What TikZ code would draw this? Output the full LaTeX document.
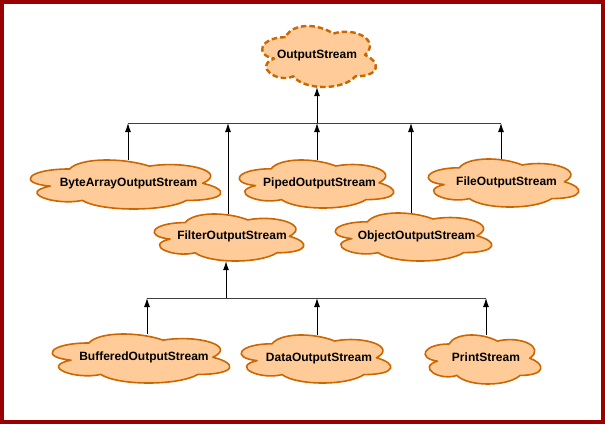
\documentclass[tikz,border=0pt]{standalone}
\usepackage{fontspec}
\setmainfont{Liberation Sans}
\usetikzlibrary{arrows.meta}
\definecolor{cloudfill}{HTML}{FFCC99}
\definecolor{clouddraw}{HTML}{CC6600}
\definecolor{frame}{HTML}{990000}
\definecolor{barcol}{HTML}{404040}
\tikzset{
  cloudline/.style={draw=clouddraw, fill=cloudfill, line width=1.6pt, line join=round},
  cloudtext/.style={rectangle, inner sep=0pt, font=\fontsize{12}{14}\selectfont\bfseries},
  osline/.style={dash pattern=on 5.5pt off 3pt, line width=2.4pt},
  arr/.style={-{Latex[length=9pt,width=6pt]}, line width=0.9pt, black},
  bar/.style={line width=0.9pt, barcol},
}
% #1 name, #2 L, #3 T, #4 R, #5 B (visible bounds), #6 text, #7 extra line style, #8 x text shift
\newcommand\mycloud[8]{%
  \pgfmathsetmacro\cw{(#4-#2)/0.898}%
  \pgfmathsetmacro\ch{(#5-#3)/0.857}%
  \pgfmathsetmacro\cx{#2-0.064*\cw}%
  \pgfmathsetmacro\cy{#3-0.093*\ch}%
  \begin{scope}[shift={(\cx,\cy)}, x={(\cw pt,0pt)}, y={(0pt,-\ch pt)}]
    \draw[cloudline,#7] (0.25,0.25) .. controls (0.05,0.25) and (0,0.5) .. (0.16,0.55)
      .. controls (0,0.66) and (0.18,0.9) .. (0.31,0.8)
      .. controls (0.4,1) and (0.7,1) .. (0.8,0.8)
      .. controls (1,0.8) and (1,0.6) .. (0.875,0.5)
      .. controls (1,0.3) and (0.8,0.1) .. (0.625,0.2)
      .. controls (0.5,0.05) and (0.3,0.05) .. (0.25,0.25) -- cycle;
  \end{scope}
  \node[cloudtext, minimum width={(#4-#2)*1pt}, minimum height={(#5-#3)*1pt}] (#1)
    at ({(#2+#4)/2},{(#3+#5)/2}) {\raisebox{-2.1pt}[0pt][0pt]{\hspace*{#8}#6}};
}
\begin{document}
\begin{tikzpicture}[x=1pt,y=-1pt]
\useasboundingbox (0,0) rectangle (605,424);
\draw[frame, line width=4pt] (2,2) rectangle (603,422);

\mycloud{os}{262}{26}{376}{87}{OutputStream}{osline}{-4pt}

\mycloud{baos}{30}{160}{221}{209}{ByteArrayOutputStream}{}{6pt}
\mycloud{pos}{239}{160}{394}{208}{PipedOutputStream}{}{6pt}
\mycloud{fos}{428}{159}{579}{207}{FileOutputStream}{}{6pt}
\mycloud{filt}{154}{214}{304}{261}{FilterOutputStream}{}{6pt}
\mycloud{oos}{335}{213}{492}{261}{ObjectOutputStream}{}{6pt}

\mycloud{bos}{52}{334}{230}{383}{BufferedOutputStream}{}{6pt}
\mycloud{dos}{241}{335}{391}{383}{DataOutputStream}{}{6pt}
\mycloud{ps}{425}{335}{541}{384}{PrintStream}{}{6pt}

% top hierarchy
\coordinate (t1) at (128,123);
\coordinate (t2) at (228,123);
\coordinate (t3) at (317,123);
\coordinate (t4) at (411,123);
\coordinate (t5) at (501,123);
\draw[bar] (t1) -- (t5);
\draw[arr] (t3) -- (os.south -| t3);
\draw[arr] (baos.north -| t1) -- (t1);
\draw[arr] (filt.north -| t2) -- (t2);
\draw[arr] (pos.north -| t3) -- (t3);
\draw[arr] (oos.north -| t4) -- (t4);
\draw[arr] (fos.north -| t5) -- (t5);

% bottom hierarchy
\coordinate (b1) at (147,298);
\coordinate (b2) at (226,298);
\coordinate (b3) at (317,298);
\coordinate (b4) at (486,298);
\draw[bar] (b1) -- (b4);
\draw[arr] (b2) -- (filt.south -| b2);
\draw[arr] (bos.north -| b1) -- (b1);
\draw[arr] (dos.north -| b3) -- (b3);
\draw[arr] (ps.north -| b4) -- (b4);
\end{tikzpicture}
\end{document}
